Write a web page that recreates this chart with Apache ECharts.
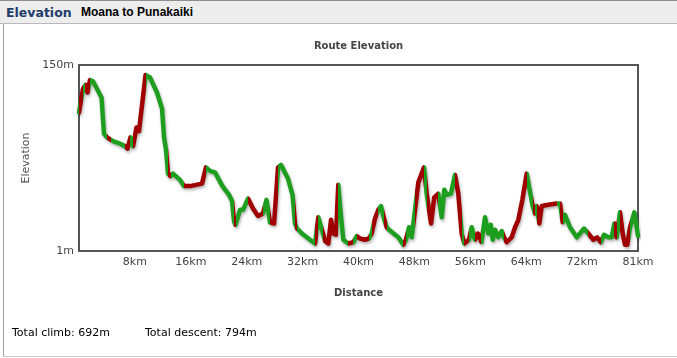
<!DOCTYPE html>
<html>
<head>
<meta charset="utf-8">
<script src="https://cdn.jsdelivr.net/npm/echarts@6/dist/echarts.min.js"></script>
<style>
html,body{margin:0;padding:0;background:#fff;}
#page{position:relative;width:677px;height:358px;overflow:hidden;font-family:"DejaVu Sans",Verdana,sans-serif;background:#fff;}
#hdr{position:absolute;left:0;top:0;width:677px;height:24px;background:#ededed;border-top:1px solid #8f8f8f;border-bottom:1px solid #b8b8b8;box-sizing:border-box;}
#hdr .t1{position:absolute;left:6px;top:3px;font:bold 12.5px/18px "DejaVu Sans",sans-serif;color:#1f3c6b;}
#hdr .t2{position:absolute;left:81px;top:4px;font:bold 12px/15px "Liberation Sans",Arial,sans-serif;color:#000;}
#lb{position:absolute;left:3px;top:24px;width:1px;height:333px;background:#a0a0a0;}
#bb{position:absolute;left:3px;top:356px;width:674px;height:1px;background:#c8c8c8;}
.ft{position:absolute;top:326px;font:11px/13px "DejaVu Sans",sans-serif;color:#000;}
#chart{position:absolute;left:0;top:0;width:677px;height:358px;}
</style>
</head>
<body>
<div id="page">
  <div id="hdr"><span class="t1">Elevation</span><span class="t2">Moana to Punakaiki</span></div>
  <div id="lb"></div>
  <div id="bb"></div>
  <div id="chart"></div>
  <div class="ft" style="left:12px">Total climb: 692m</div>
  <div class="ft" style="left:145px">Total descent: 794m</div>
</div>
<script>
// ---- data ----
const distanceKm = [0.0,0.58,0.94,1.23,1.59,2.03,3.26,3.62,4.06,4.64,4.93,5.94,6.67,7.03,7.46,7.83,8.33,8.69,9.64,10.29,
  11.30,12.03,12.32,12.61,12.90,13.26,13.62,14.64,15.21,16.08,17.82,18.40,19.05,19.71,20.79,21.74,22.17,22.46,22.68,23.33,
  23.76,24.49,25.21,25.94,26.66,27.17,27.68,28.26,28.84,29.27,30.28,30.94,31.30,31.59,32.31,33.47,34.20,34.68,35.36,35.65,
  36.12,36.52,36.85,37.24,37.57,37.92,38.30,39.02,39.75,40.24,40.72,41.44,42.02,42.41,42.89,43.37,43.76,44.24,44.59,44.92,
  46.27,46.99,47.38,47.82,48.21,48.69,49.17,49.99,50.38,51.01,51.48,52.06,52.56,52.93,53.28,53.90,54.48,54.96,55.45,55.83,
  56.51,56.90,57.38,57.81,58.32,58.83,59.31,59.66,59.95,60.28,60.76,61.25,61.58,61.97,62.70,63.18,63.66,64.24,64.87,65.11,
  65.74,66.08,66.32,66.70,67.05,68.00,69.22,69.70,70.09,70.42,71.15,72.12,73.18,73.80,74.52,75.06,75.60,76.07,76.70,77.19,
  77.57,77.91,78.39,78.78,79.12,79.45,79.84,80.47,81.0];
const elevationM = [112,131,134,128,138,137,124,95,92,90,89,87,85,83,92,85,100,97,142,140,
  128,115,92,82,63,61,63,58,53,53,55,68,65,64,53,46,41,25,22,34,
  34,43,35,29,31,42,24,23,68,70,59,46,23,19,15,10,7,28,15,9,
  7,26,15,14,54,31,10,7,8,13,11,10,11,15,27,34,37,26,20,18,
  12,6,10,20,12,34,56,68,47,23,44,47,28,50,46,47,62,47,15,7,
  10,20,10,15,8,28,15,22,10,18,12,17,12,8,12,20,26,42,63,62,
  37,31,37,23,37,38,39,39,24,30,20,12,19,15,10,12,8,14,12,12,
  23,12,32,15,6,6,20,32,13];
// 1 = segment ending at this point drawn as climb (red), 0 = descent (green)
const climbing = [0,1,0,1,1,0,0,0,0,1,0,0,0,1,1,0,1,1,1,0,
  0,0,0,0,0,1,0,0,0,1,1,1,0,0,0,0,0,0,1,0,
  0,0,1,1,1,0,0,1,1,0,0,0,0,1,0,0,0,1,0,1,
  1,1,1,1,1,0,0,0,1,0,1,1,1,0,1,1,0,0,1,0,
  0,0,1,0,0,0,1,1,0,1,1,1,0,0,0,0,0,1,1,0,
  1,0,0,1,1,0,0,0,0,0,0,0,0,1,1,1,1,1,1,0,
  0,1,0,1,1,1,1,0,1,0,0,0,0,0,1,1,1,0,0,0,
  0,1,0,1,1,1,1,0,0];
const xTickLabels = ['8km','16km','24km','32km','40km','48km','56km','64km','72km','81km'];
const xMax = 81;
const xStep = 8.1;
const yTickLabels = ['1m','150m'];
const yRange = [1,150];

// ---- chart ----
const RED = '#a00000', GREEN = '#1e9e1e';
const pairs = distanceKm.map((d,i)=>[d, elevationM[i]]);
const pieces = [];
for (let i = 1; i < distanceKm.length; i++) {
  const color = climbing[i] ? RED : GREEN;
  const last = pieces[pieces.length-1];
  if (last && last.color === color) last.lt = distanceKm[i];
  else pieces.push({gte: distanceKm[i-1], lt: distanceKm[i], color: color});
}
const lastPiece = pieces[pieces.length-1];
lastPiece.lte = lastPiece.lt; delete lastPiece.lt;

const chart = echarts.init(document.getElementById('chart'), null, {renderer:'canvas'});
chart.setOption({
  animation: false,
  backgroundColor: 'transparent',
  graphic: [{
    type: 'text', x: 358.5, y: 41,
    style: {text: 'Route Elevation', textAlign: 'center', textVerticalAlign: 'top',
      font: 'bold 10px "DejaVu Sans", sans-serif', fill: '#444'}
  }],
  grid: {left: 79, top: 65, right: 39, bottom: 107, show: true, borderColor: '#555', borderWidth: 2, backgroundColor: 'transparent', containLabel: false},
  xAxis: {
    type: 'value', min: 0, max: xMax, interval: xStep,
    name: 'Distance', nameLocation: 'middle', nameGap: 37,
    nameTextStyle: {fontFamily: 'DejaVu Sans', fontWeight: 'bold', fontSize: 10, color: '#444'},
    axisLine: {show: false}, axisTick: {show: false}, splitLine: {show: false},
    axisLabel: {margin: 6, fontFamily: 'DejaVu Sans', fontSize: 11, color: '#444',
      formatter: function(v){ const k = Math.round(v / xStep); return k === 0 ? '' : (xTickLabels[k-1] || ''); }}
  },
  yAxis: {
    type: 'value', min: yRange[0], max: yRange[1],
    name: 'Elevation', nameLocation: 'middle', nameGap: 41,
    nameTextStyle: {fontFamily: 'DejaVu Sans', fontSize: 11, color: '#555'},
    axisLine: {show: false}, axisTick: {show: false}, splitLine: {show: false},
    axisLabel: {margin: 5, fontFamily: 'DejaVu Sans', fontSize: 11, color: '#444', showMinLabel: true, showMaxLabel: true,
      formatter: function(v){ return v === yRange[0] ? yTickLabels[0] : (v === yRange[1] ? yTickLabels[1] : ''); }}
  },
  visualMap: {type: 'piecewise', show: false, dimension: 0, seriesIndex: 0, pieces: pieces, outOfRange: {color: GREEN}},
  series: [{
    type: 'line', data: pairs, symbol: 'none', clip: false,
    lineStyle: {width: 4.5, cap: 'round', join: 'round', shadowColor: 'rgba(0,0,0,0.3)', shadowBlur: 3, shadowOffsetX: 1, shadowOffsetY: 2}
  }]
});
</script>
</body>
</html>
